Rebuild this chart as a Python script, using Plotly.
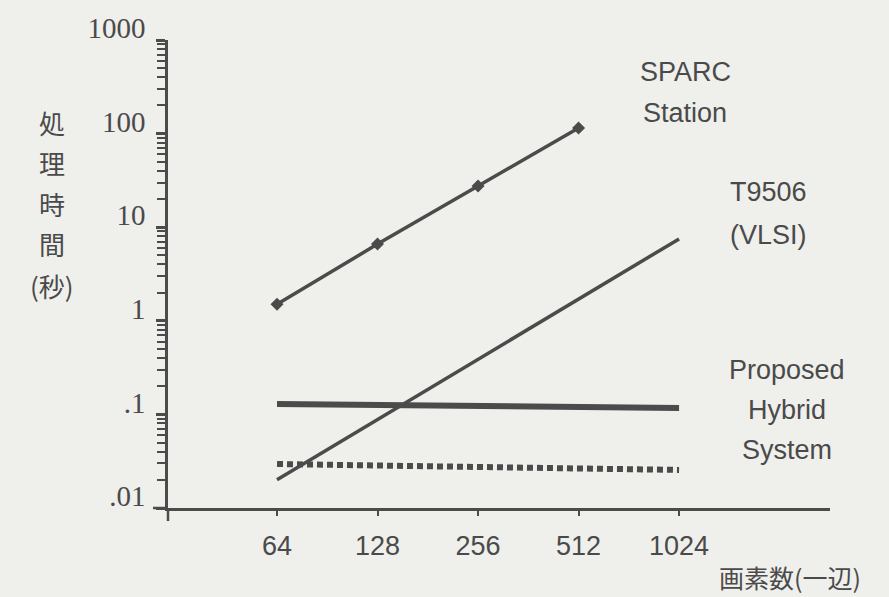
import math
import plotly.graph_objects as go

# ---- data ----
pixels = [64, 128, 256, 512, 1024]
sparc_x = [64, 128, 256, 512]
sparc_y = [1.5, 6.6, 27.5, 115]
vlsi_x = [64, 128, 256, 512, 1024]
vlsi_y = [0.02, 0.088, 0.39, 1.7, 7.5]
hybrid_solid_x = [64, 1024]
hybrid_solid_y = [0.129, 0.117]
hybrid_dot_x = [64, 1024]
hybrid_dot_y = [0.0295, 0.0255]
x_tick_labels = ["64", "128", "256", "512", "1024"]
y_tick_vals = [0.01, 0.1, 1, 10, 100, 1000]
y_tick_labels = [".01", ".1", "1", "10", "100", "1000"]
y_title_chars = ["処", "理", "時", "間", "(秒)"]

LINE = "#4b4b4b"
TEXT = "#4a4a4a"
BG = "#efefec"

fig = go.Figure()
fig.add_trace(go.Scatter(x=sparc_x, y=sparc_y, mode="lines+markers",
                         line=dict(color=LINE, width=3.5),
                         marker=dict(symbol="diamond", size=10, color=LINE),
                         showlegend=False))
fig.add_trace(go.Scatter(x=vlsi_x, y=vlsi_y, mode="lines",
                         line=dict(color=LINE, width=3.5), showlegend=False))
fig.add_trace(go.Scatter(x=hybrid_solid_x, y=hybrid_solid_y, mode="lines",
                         line=dict(color=LINE, width=6), showlegend=False))
fig.add_trace(go.Scatter(x=hybrid_dot_x, y=hybrid_dot_y, mode="lines",
                         line=dict(color=LINE, width=6, dash="6px,4px"),
                         showlegend=False))

xr0 = 1.4797
xr1 = 3.4623

fig.update_xaxes(type="log", range=[xr0, xr1], tickvals=pixels, ticktext=x_tick_labels,
                 showline=True, linecolor=LINE, linewidth=2.5, ticks="outside",
                 ticklen=5, tickwidth=2, tickcolor=LINE, showgrid=False, zeroline=False,
                 ticklabelstandoff=7,
                 tickfont=dict(family="Liberation Sans, Arial", size=27, color=TEXT))
fig.update_yaxes(type="log", range=[-2, 3], tickvals=y_tick_vals, ticktext=y_tick_labels,
                 showline=True, linecolor=LINE, linewidth=2.5, ticks="outside",
                 ticklen=9, tickwidth=2.5, tickcolor=LINE, showgrid=False, zeroline=False,
                 ticklabelstandoff=5, ticklabelshift=-12,
                 minor=dict(ticks="outside", ticklen=8, tickwidth=2, tickcolor=LINE,
                            dtick="D1", showgrid=False),
                 tickfont=dict(family="Liberation Serif, Times New Roman", size=29, color=TEXT))

W, H = 889, 597
L, R, T, B = 168, 59, 40, 89
pw, ph = W - L - R, H - T - B

def px(xp):
    return (xp - L) / pw

def py(yp):
    return (H - B - yp) / ph

# axis cross extensions
fig.add_shape(type="line", xref="paper", yref="paper", x0=px(153), x1=px(168), y0=0, y1=0,
              line=dict(color=LINE, width=2.5))
fig.add_shape(type="line", xref="paper", yref="paper", x0=0, x1=0, y0=py(508), y1=py(521),
              line=dict(color=LINE, width=2.5))

labels = [
    ("SPARC", 685, 72), ("Station", 685, 113),
    ("T9506", 768, 192), ("(VLSI)", 768, 235),
    ("Proposed", 787, 370), ("Hybrid", 787, 410), ("System", 787, 450),
]
for txt, xx, yy in labels:
    fig.add_annotation(text=txt, xref="paper", yref="paper", x=px(xx), y=py(yy),
                       showarrow=False, xanchor="center", yanchor="middle",
                       font=dict(family="Liberation Sans, Arial", size=27, color=TEXT))

fig.add_annotation(text="画素数(一辺)", xref="paper", yref="paper", x=px(790), y=py(577),
                   showarrow=False, xanchor="center", yanchor="middle",
                   font=dict(family="Noto Sans CJK JP", size=25, color=TEXT))

ys = [122, 163, 203, 243, 285]
for ch, yy in zip(y_title_chars, ys):
    fig.add_annotation(text=ch, xref="paper", yref="paper", x=px(52), y=py(yy),
                       showarrow=False, xanchor="center", yanchor="middle",
                       font=dict(family="Noto Sans CJK JP", size=26, color=TEXT))

fig.update_layout(width=W, height=H, margin=dict(l=L, r=R, t=T, b=B, autoexpand=False),
                  paper_bgcolor=BG, plot_bgcolor=BG)

fig.write_html("out.html", config={"displayModeBar": False},
               post_script="document.body.style.margin='0';document.body.style.overflow='hidden';")
